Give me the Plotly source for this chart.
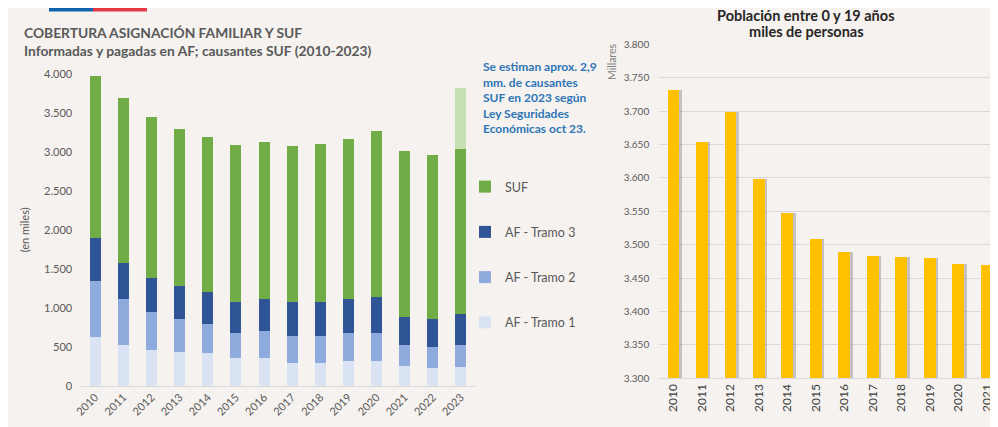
import plotly.graph_objects as go

# page body has an 8px margin; figure occupies page pixels from (8, 8)
OFF = 8
FW, FH = 990, 419

# ---------------- data ----------------
years_af = ["2010", "2011", "2012", "2013", "2014", "2015", "2016",
            "2017", "2018", "2019", "2020", "2021", "2022", "2023"]
af_tramo1 = [621, 522, 462, 436, 424, 351, 351, 291, 295, 317, 313, 249, 227, 240]
af_tramo2 = [723, 587, 488, 424, 364, 329, 347, 351, 343, 355, 367, 273, 270, 282]
af_tramo3 = [548, 462, 436, 420, 411, 398, 411, 436, 436, 437, 459, 364, 363, 395]
suf = [2087, 2118, 2067, 2015, 1997, 2016, 2019, 2003, 2025, 2054, 2127, 2131, 2098, 2118]
suf_estimado = [None] * 13 + [790]

years_pob = ["2010", "2011", "2012", "2013", "2014", "2015",
             "2016", "2017", "2018", "2019", "2020", "2021"]
poblacion = [3731, 3654, 3699, 3599, 3547, 3508, 3489, 3483, 3481, 3480, 3471, 3470]

left_ticks = [0, 500, 1000, 1500, 2000, 2500, 3000, 3500, 4000]
right_ticks = [3300, 3350, 3400, 3450, 3500, 3550, 3600, 3650, 3700, 3750, 3800]

FONT = "Lato"
GRAY = "#595959"
BG = "#F5F2EF"


def px_x(p):
    return (p - OFF) / FW


def px_y(p):
    return 1 - (p - OFF) / FH


fig = go.Figure()

series = [
    ("AF - Tramo 1", af_tramo1, "#DAE3F3", 4),
    ("AF - Tramo 2", af_tramo2, "#8FAADC", 3),
    ("AF - Tramo 3", af_tramo3, "#2F5597", 2),
    ("SUF", suf, "#70AD47", 1),
]
for name, vals, col, rank in series:
    fig.add_trace(go.Bar(
        x=years_af, y=vals, name=name, marker_color=col,
        marker_line_width=0, legendgroup=name, legendrank=rank,
        xaxis="x", yaxis="y",
    ))
fig.add_trace(go.Bar(
    x=years_af, y=suf_estimado, name="SUF estimado 2023",
    marker_color="#C5E0B4", marker_line_width=0, showlegend=False,
    xaxis="x", yaxis="y",
))

# right chart: shadow (base subplot) + bars (overlay subplot)
fig.add_trace(go.Bar(
    x=years_pob, y=poblacion, width=0.41, offset=-0.205 + 0.09,
    marker_color="rgba(110,110,110,0.35)", marker_line_width=0,
    showlegend=False, hoverinfo="skip", xaxis="x2", yaxis="y2",
))
fig.add_trace(go.Bar(
    x=years_pob, y=poblacion, width=0.41, name="Población 0-19",
    marker_color="#FFC000", marker_line_width=0, showlegend=False,
    xaxis="x3", yaxis="y3",
))

right_dom_x = [px_x(659.2), 1.0]
right_dom_y = [px_y(378.3), px_y(44.3)]

fig.update_layout(
    template="none",
    width=FW, height=FH,
    margin=dict(l=0, r=0, t=0, b=0),
    paper_bgcolor=BG, plot_bgcolor="rgba(0,0,0,0)",
    separators=",.",
    barmode="stack", bargap=0.61,
    font=dict(family=FONT, color=GRAY, size=11),
    xaxis=dict(
        domain=[px_x(81.2), px_x(475)], range=[-0.5, 13.5],
        type="category", tickangle=-45, showgrid=False,
        showline=True, linecolor="#D9D9D9", linewidth=1,
        ticks="", tickfont=dict(size=11, color=GRAY), automargin=False,
    ),
    yaxis=dict(
        domain=[px_y(385.7), px_y(74)], range=[0, 4000],
        tickvals=left_ticks, tickformat=",d", showgrid=False,
        zeroline=False, showline=False, ticks="", ticklabelstandoff=8,
        tickfont=dict(size=11, color=GRAY), automargin=False,
        title=dict(text="(en miles)", font=dict(size=11, color=GRAY), standoff=12),
    ),
    xaxis2=dict(
        domain=right_dom_x, range=[-0.5, 11.4], type="category",
        tickangle=-90, showgrid=False, showline=True, linecolor="#D9D9D9",
        ticks="", tickfont=dict(size=12, color="#404040"), automargin=False,
        anchor="y2",
    ),
    yaxis2=dict(
        domain=right_dom_y, range=[3300, 3800], tickvals=right_ticks,
        tickformat=",d", showgrid=True, gridcolor="#D9D9D9", gridwidth=1,
        zeroline=False, showline=False, ticks="", anchor="x2", ticklabelstandoff=9,
        tickfont=dict(size=10, color=GRAY), automargin=False,
    ),
    xaxis3=dict(
        overlaying="x2", range=[-0.5, 11.4], type="category",
        visible=False, anchor="y3",
    ),
    yaxis3=dict(
        overlaying="y2", range=[3300, 3800], visible=False, anchor="x3",
    ),
    legend=dict(
        x=px_x(465), xanchor="left", y=px_y(172), yanchor="top",
        traceorder="grouped", tracegroupgap=26,
        bgcolor="rgba(0,0,0,0)", font=dict(size=12.5, color=GRAY, family=FONT),
    ),
    showlegend=True,
)

# logo strip at the top
fig.add_shape(type="rect", xref="paper", yref="paper", x0=px_x(49), x1=px_x(93),
              y0=px_y(11.5), y1=1, fillcolor="#0F62AC", line_width=0)
fig.add_shape(type="rect", xref="paper", yref="paper", x0=px_x(93), x1=px_x(147),
              y0=px_y(11.5), y1=1, fillcolor="#E63946", line_width=0)

# titles
fig.add_annotation(
    xref="paper", yref="paper", x=px_x(22), y=px_y(22), xanchor="left", yanchor="top",
    showarrow=False, align="left",
    text="<b>COBERTURA ASIGNACIÓN FAMILIAR Y SUF<br>Informadas y pagadas en AF; causantes SUF (2010-2023)</b>",
    font=dict(size=13.8, color=GRAY, family=FONT),
)
fig.add_annotation(
    xref="paper", yref="paper", x=px_x(806), y=px_y(15.5), xanchor="center", yanchor="middle",
    showarrow=False, align="center", borderpad=0,
    text="<b>Población entre 0 y 19 años</b>",
    font=dict(size=14.5, color="#262626", family=FONT),
)
fig.add_annotation(
    xref="paper", yref="paper", x=px_x(806), y=px_y(31), xanchor="center", yanchor="middle",
    showarrow=False, align="center", borderpad=0,
    text="<b>miles de personas</b>",
    font=dict(size=14.5, color="#262626", family=FONT),
)
fig.add_annotation(
    xref="paper", yref="paper", x=px_x(481), y=px_y(57), xanchor="left", yanchor="top",
    showarrow=False, align="left",
    text="<b>Se estiman aprox. 2,9<br>mm. de causantes<br>SUF en 2023 según<br>Ley Seguridades<br>Económicas oct 23.</b>",
    font=dict(size=12, color="#2E75B6", family=FONT),
)
fig.add_annotation(
    xref="paper", yref="paper", x=px_x(612), y=px_y(62), xanchor="center", yanchor="middle",
    showarrow=False, textangle=-90,
    text="Millares", font=dict(size=10.5, color="#7F7F7F", family=FONT),
)

fig.write_html("out.html")
